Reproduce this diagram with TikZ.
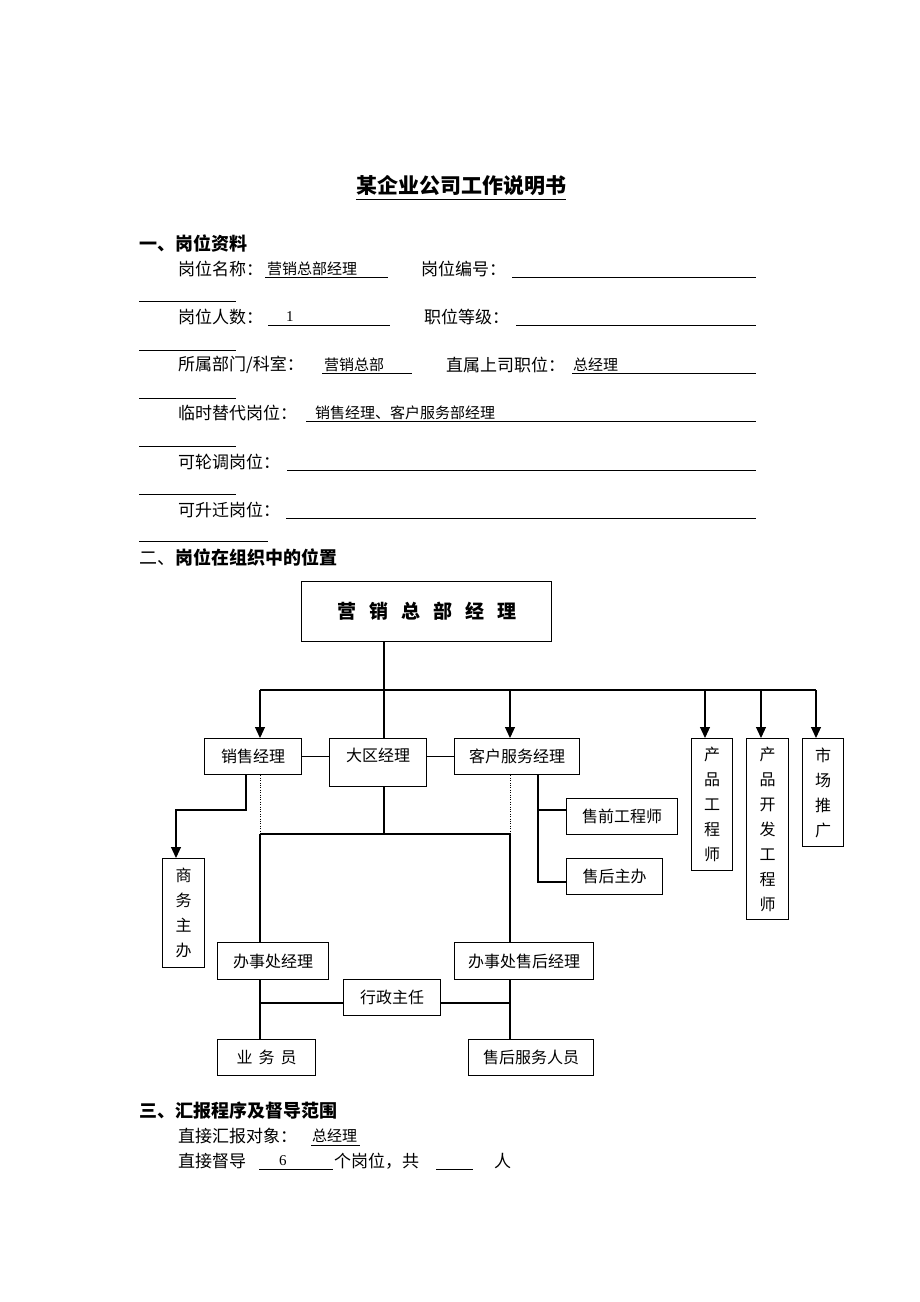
\documentclass[tikz,border=0pt]{standalone}
\usepackage{fontspec}
\setmainfont{Noto Sans CJK SC}
\newfontfamily\latinnum{Liberation Serif}
\usepackage{tikz}
\usetikzlibrary{arrows,arrows.meta,shapes}

\begin{document}
\begin{tikzpicture}[x=1pt,y=-1pt]
\tikzstyle{every node}=[inner sep=0pt];
\tikzstyle{txt}=[anchor=west,font=\fontsize{17}{17}\selectfont];
\tikzstyle{val}=[anchor=west,font=\fontsize{15}{15}\selectfont];
\tikzstyle{head}=[anchor=west,font=\fontsize{18}{18}\selectfont\bfseries];
\tikzstyle{box}=[draw,line width=1.3,anchor=north west,minimum height=36,font=\fontsize{16}{16}\selectfont];
\tikzstyle{vbox}=[draw,line width=1.3,anchor=north west,align=center,font=\fontsize{16}{25}\selectfont];
\tikzstyle{blank}=[line width=0.9];
\tikzstyle{link}=[line width=1.1];
\tikzstyle{down}=[line width=1.1,-{Triangle[length=11pt,width=10pt]}];
\useasboundingbox (0,0) rectangle (920,1302);
\fill[white] (0,0) rectangle (920,1302);
% title
\node[font=\fontsize{21}{21}\selectfont\bfseries] (title) at (461,186) {某企业公司工作说明书};
\draw[line width=1.2] ([yshift=-3]title.south west) -- ([yshift=-3]title.south east);
% section one
\node[head] (h1) at (139,244) {一、岗位资料};
\node[txt] (n11) at (178,269) {岗位名称：};
\node[val] (v11) at (267,269) {营销总部经理};
\draw[blank] (265,277) -- (388,277);
\node[txt] (n12) at (421,269) {岗位编号：};
\draw[blank] (512,277) -- (756,277);
\draw[blank] (139,301) -- (236,301);
\node[txt] (n21) at (178,317) {岗位人数：};
\node[val] (v21) at (286,317) {\latinnum 1};
\draw[blank] (268,325) -- (390,325);
\node[txt] (n22) at (424,317) {职位等级：};
\draw[blank] (516,325) -- (756,325);
\draw[blank] (139,350) -- (236,350);
\node[txt] (n31) at (178,365) {所属部门/科室：};
\node[val] (v31) at (324,365) {营销总部};
\draw[blank] (322,373) -- (412,373);
\node[txt] (n32) at (446,365) {直属上司职位：};
\node[val] (v32) at (573,365) {总经理};
\draw[blank] (572,373) -- (756,373);
\draw[blank] (139,398) -- (236,398);
\node[txt] (n41) at (178,413) {临时替代岗位：};
\node[val] (v41) at (315,413) {销售经理、客户服务部经理};
\draw[blank] (306,421) -- (756,421);
\draw[blank] (139,446) -- (236,446);
\node[txt] (n51) at (178,462) {可轮调岗位：};
\draw[blank] (287,470) -- (756,470);
\draw[blank] (139,494) -- (236,494);
\node[txt] (n61) at (178,510) {可升迁岗位：};
\draw[blank] (286,518) -- (756,518);
\draw[blank] (139,541) -- (268,541);
% section two
\node[head] (h2) at (139,557) {{\mdseries 二、}岗位在组织中的位置};
\node[draw,line width=1.3,anchor=north west,minimum width=250,minimum height=60,font=\fontsize{19}{19}\selectfont\bfseries] (gm) at (301,581)
  {营\hspace{13pt}销\hspace{13pt}总\hspace{13pt}部\hspace{13pt}经\hspace{13pt}理};
\node[box,minimum width=97] (sm) at (204,738) {销售经理};
\node[box,minimum width=97,minimum height=48,text height=12,text depth=14] (dq) at (329,738) {大区经理};
\node[box,minimum width=125] (cs) at (454,738) {客户服务经理};
\node[vbox,minimum width=41,minimum height=132] (pe) at (691,738) {产\\品\\工\\程\\师};
\node[vbox,minimum width=42,minimum height=181] (pd) at (746,738) {产\\品\\开\\发\\工\\程\\师};
\node[vbox,minimum width=41,minimum height=108] (mk) at (802,738) {市\\场\\推\\广};
\node[box,minimum width=111] (sq) at (566,798) {售前工程师};
\node[box,minimum width=96] (sh) at (566,858) {售后主办};
\node[vbox,minimum width=42,minimum height=109] (bz) at (162,858) {商\\务\\主\\办};
\node[box,minimum width=111,minimum height=37] (bo) at (217,942) {办事处经理};
\node[box,minimum width=139,minimum height=37] (bs) at (454,942) {办事处售后经理};
\node[box,minimum width=97] (xz) at (343,979) {行政主任};
\node[box,minimum width=98] (yw) at (217,1039) {业\hspace{6pt}务\hspace{6pt}员};
\node[box,minimum width=125] (sf) at (468,1039) {售后服务人员};
% bus points
\coordinate (hub) at (384,690);
\coordinate (b1) at (260,690);
\coordinate (b2) at (510,690);
\coordinate (b3) at (705,690);
\coordinate (b4) at (761,690);
\coordinate (b5) at (816,690);
\coordinate (sb) at (246,810);
\coordinate (sbt) at (176,810);
\coordinate (dl) at (260,834);
\coordinate (dr) at (510,834);
\coordinate (cb) at (538,810);
\coordinate (cb2) at (538,882);
\coordinate (xl) at (260,1003);
\coordinate (xr) at (510,1003);
\draw[link] (gm.south -| hub) -- (dq.north -| hub);
\draw[link] (b1) -- (b5);
\draw[down] (b1) -- (b1 |- sm.north);
\draw[down] (b2) -- (b2 |- cs.north);
\draw[down] (b3) -- (b3 |- pe.north);
\draw[down] (b4) -- (b4 |- pd.north);
\draw[down] (b5) -- (b5 |- mk.north);
\draw[link] (sm.east) -- (dq.west |- sm.east);
\draw[link] (dq.east |- cs.west) -- (cs.west);
\draw[down] (sm.south -| sb) -- (sb) -- (sbt) -- (sbt |- bz.north);
\draw[dotted] (sm.south -| dl) -- (dl);
\draw[dotted] (cs.south -| dr) -- (dr);
\draw[link] (dq.south -| hub) -- (hub |- dl);
\draw[link] (dl) -- (dr);
\draw[link] (dl) -- (dl |- bo.north);
\draw[link] (dr) -- (dr |- bs.north);
\draw[link] (cs.south -| cb) -- (cb2) -- (cb2 -| sh.west);
\draw[link] (cb) -- (cb -| sq.west);
\draw[link] (bo.south -| xl) -- (xl |- yw.north);
\draw[link] (bs.south -| xr) -- (xr |- sf.north);
\draw[link] (xl) -- (xl -| xz.west);
\draw[link] (xz.east |- xr) -- (xr);
% section three
\node[head] (h3) at (139,1111) {三、汇报程序及督导范围};
\node[txt] (n71) at (178,1136) {直接汇报对象：};
\node[val] (v71) at (312,1136) {总经理};
\draw[blank] (311,1145) -- (360,1145);
\node[txt] (n81) at (178,1161) {直接督导};
\node[val] (v81) at (279,1161) {\latinnum 6};
\draw[blank] (259,1169) -- (333,1169);
\node[txt] (n82) at (334,1161) {个岗位，共};
\draw[blank] (436,1169) -- (473,1169);
\node[txt] (n83) at (494,1161) {人};
\end{tikzpicture}
\end{document}
